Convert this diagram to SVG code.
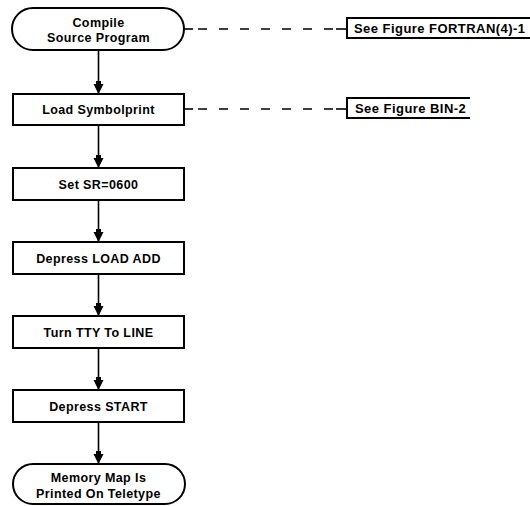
<svg xmlns="http://www.w3.org/2000/svg" width="530" height="506" viewBox="0 0 530 506">
<style>
.box{fill:#fff;stroke:#000;stroke-width:2}
.lbl{font-family:"Liberation Sans",Arial,sans-serif;font-size:12.5px;font-weight:bold;letter-spacing:0.4px;fill:#000;text-anchor:middle}
.note{font-family:"Liberation Sans",Arial,sans-serif;font-size:13px;font-weight:bold;letter-spacing:0.45px;fill:#000}
.flow{stroke:#000;stroke-width:1.6;fill:none}
.dash{stroke:#000;stroke-width:1.5;fill:none;stroke-dasharray:9 12}
.brk{stroke:#000;stroke-width:2;fill:none}
</style>
<defs>
<marker id="ad" viewBox="0 0 12 13" refX="6" refY="13" markerWidth="12" markerHeight="13" markerUnits="userSpaceOnUse" orient="0">
<path d="M1,3 L11,3 L6,13 Z M3.5,0 L8.5,0 L8.5,4 L3.5,4 Z" fill="#000"/>
</marker>
</defs>
<g id="connectors">
<line class="flow" x1="98.5" y1="50" x2="98.5" y2="94" marker-end="url(#ad)"/>
<line class="flow" x1="98.5" y1="125" x2="98.5" y2="168" marker-end="url(#ad)"/>
<line class="flow" x1="98.5" y1="200" x2="98.5" y2="242" marker-end="url(#ad)"/>
<line class="flow" x1="98.5" y1="274" x2="98.5" y2="316" marker-end="url(#ad)"/>
<line class="flow" x1="98.5" y1="348" x2="98.5" y2="390" marker-end="url(#ad)"/>
<line class="flow" x1="98.5" y1="422" x2="98.5" y2="464" marker-end="url(#ad)"/>
<line class="flow" x1="184" y1="29" x2="193" y2="29"/>
<line class="dash" x1="198" y1="29" x2="334" y2="29"/>
<line class="flow" x1="336" y1="29" x2="346" y2="29"/>
<line class="flow" x1="184" y1="109" x2="193" y2="109"/>
<line class="dash" x1="198" y1="109" x2="334" y2="109"/>
<line class="flow" x1="336" y1="109" x2="346" y2="109"/>
</g>
<g id="compile">
<rect class="box" x="12" y="8" width="172" height="42" rx="21" ry="21"/>
<text class="lbl" x="98.5" y="27">Compile</text>
<text class="lbl" x="98.5" y="42">Source Program</text>
</g>
<g id="load">
<rect class="box" x="13" y="94" width="171" height="31"/>
<text class="lbl" x="98.5" y="113.5">Load Symbolprint</text>
</g>
<g id="setsr">
<rect class="box" x="13" y="168" width="171" height="32"/>
<text class="lbl" x="98.5" y="188.5">Set SR=0600</text>
</g>
<g id="loadadd">
<rect class="box" x="13" y="242" width="171" height="32"/>
<text class="lbl" x="98.5" y="262.5">Depress LOAD ADD</text>
</g>
<g id="tty">
<rect class="box" x="13" y="316" width="171" height="32"/>
<text class="lbl" x="98.5" y="336.5">Turn TTY To LINE</text>
</g>
<g id="start">
<rect class="box" x="13" y="390" width="171" height="32"/>
<text class="lbl" x="98.5" y="410.5">Depress START</text>
</g>
<g id="memmap">
<rect class="box" x="13" y="464" width="172" height="40" rx="20" ry="20"/>
<text class="lbl" x="98.5" y="482">Memory Map Is</text>
<text class="lbl" x="98.5" y="498">Printed On Teletype</text>
</g>
<g id="note-fortran">
<path class="brk" d="M531,18 L347,18 L347,38 L531,38"/>
<text class="note" x="354" y="33">See Figure FORTRAN(4)-1</text>
</g>
<g id="note-bin">
<path class="brk" d="M470,98 L347,98 L347,118 L470,118"/>
<text class="note" x="355" y="113">See Figure BIN-2</text>
</g>
</svg>
